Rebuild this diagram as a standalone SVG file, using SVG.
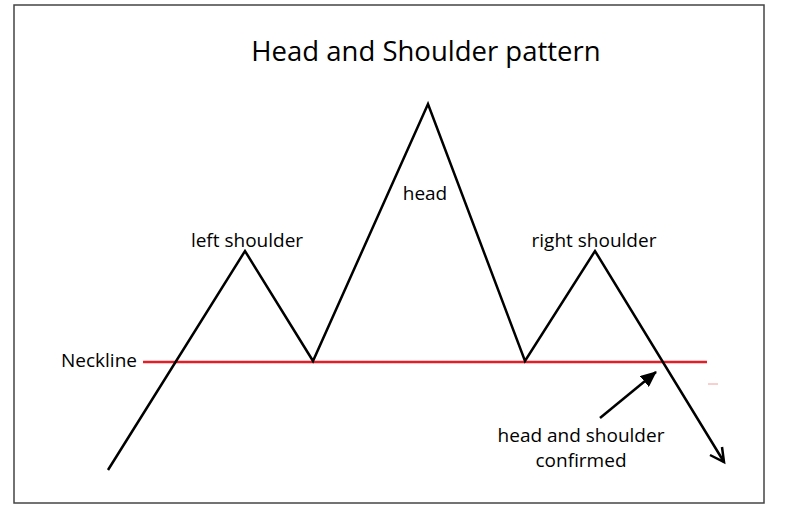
<svg xmlns="http://www.w3.org/2000/svg" width="786" height="513" viewBox="0 0 786 513">
<defs>
<style>
text{font-family:"Open Sans","Liberation Sans",sans-serif;fill:#000}
.lbl{font-size:19px}
.ttl{font-size:27.5px}
.ln{fill:none;stroke:#000;stroke-width:2.5;stroke-linejoin:miter}
</style>
<marker id="ah" markerWidth="16" markerHeight="14" refX="15" refY="7" orient="auto" markerUnits="userSpaceOnUse" viewBox="0 0 16 14"><path d="M0,0 L16,7 L0,14 z" fill="#000"/></marker>
</defs>
<rect x="0" y="0" width="786" height="513" fill="#fff"/>
<rect x="14" y="5" width="750" height="498" fill="none" stroke="#444" stroke-width="1.5"/>
<text class="ttl" x="426" y="61" text-anchor="middle">Head and Shoulder pattern</text>
<g id="connectors">
<line x1="143" y1="362" x2="707" y2="362" stroke="#e41e26" stroke-width="2.5"/>
<line x1="708" y1="384" x2="718" y2="384" stroke="#f0a0a0" stroke-width="1"/>
<polyline class="ln" points="108,470 245,251 313,361 428,104 525,361 595,251 724,462"/>
<polyline class="ln" points="710,455 724,462 722,447"/>
<line x1="600" y1="418" x2="656" y2="372" stroke="#000" stroke-width="2.5" marker-end="url(#ah)"/>
</g>
<g id="left-shoulder"><text class="lbl" x="247" y="247" text-anchor="middle">left shoulder</text></g>
<g id="head"><text class="lbl" x="425" y="200" text-anchor="middle">head</text></g>
<g id="right-shoulder"><text class="lbl" x="594" y="247" text-anchor="middle">right shoulder</text></g>
<g id="neckline"><text class="lbl" x="137" y="367" text-anchor="end">Neckline</text></g>
<g id="confirmed"><text class="lbl" x="581" y="442" text-anchor="middle">head and shoulder</text><text class="lbl" x="581" y="467" text-anchor="middle">confirmed</text></g>
</svg>
